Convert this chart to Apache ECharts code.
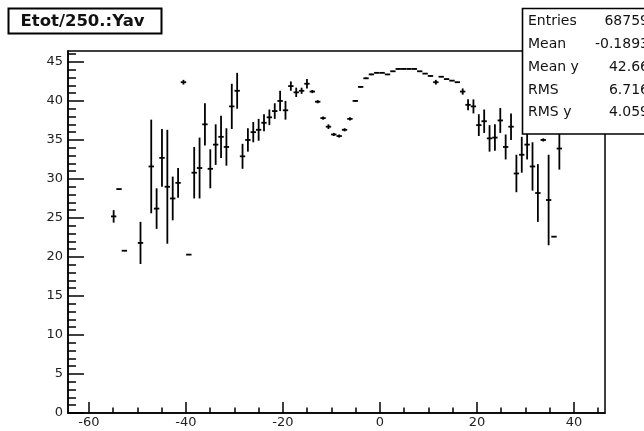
<!DOCTYPE html>
<html>
<head>
<meta charset="utf-8">
<script src="https://cdn.jsdelivr.net/npm/echarts@6/dist/echarts.min.js"></script>
<style>
html,body{margin:0;padding:0;background:#fff;}
#main{width:644px;height:431px;}
</style>
</head>
<body>
<div id="main"></div>
<script>
// Profile binning along Yav
const X_MIN = -64.3;
const X_MAX = 46.4;
const N_BINS = 100;
const Y_MIN = 0;
const Y_MAX = 46.4;

// Filled bins (0-based index), mean of Etot/250. per bin and its error
const filledBins = [
  8, 9, 10, 13, 15, 16, 17, 18, 19, 20, 21, 22, 23, 24, 25, 26, 27, 28, 29, 30, 31,
  32, 33, 34, 35, 36, 37, 38, 39, 40, 41, 42, 43, 44, 45, 46, 47, 48, 49, 50, 51,
  52, 53, 54, 55, 56, 57, 58, 59, 60, 61, 62, 63, 64, 65, 66, 67, 68, 69, 70, 71,
  72, 73, 74, 75, 76, 77, 78, 79, 80, 81, 82, 83, 84, 85, 86, 87, 88, 89, 90, 91
];
const meanEtot = [
  25.2, 28.7, 20.8, 21.8, 31.6, 26.2, 32.7, 29.0, 27.5, 29.5, 42.4, 20.3, 30.8, 31.4, 37.0, 31.3, 34.4, 35.4, 34.1, 39.3, 41.3,
  32.9, 35.0, 36.0, 36.3, 37.2, 37.9, 38.7, 40.0, 38.8, 41.9, 41.1, 41.3, 42.2, 41.2, 39.9, 37.8, 36.7, 35.7, 35.5, 36.3,
  37.7, 40.0, 41.8, 42.9, 43.4, 43.6, 43.6, 43.4, 43.8, 44.1, 44.1, 44.1, 44.1, 43.8, 43.5, 43.2, 42.4, 43.1, 42.8, 42.6,
  42.4, 41.2, 39.5, 39.3, 36.9, 37.4, 35.2, 35.3, 37.5, 34.1, 36.7, 30.7, 33.1, 34.4, 31.6, 28.2, 35.0, 27.3, 22.6, 33.9
];
const errEtot = [
  0.8, 0, 0, 2.7, 6.0, 2.6, 3.7, 7.3, 2.8, 1.9, 0.3, 0, 3.3, 3.9, 2.7, 2.5, 2.6, 2.7, 2.4, 2.9, 2.3,
  1.6, 1.5, 1.3, 1.4, 1.1, 1.0, 1.0, 1.3, 1.2, 0.6, 0.6, 0.4, 0.6, 0.2, 0.2, 0.2, 0.3, 0.2, 0.2, 0.2,
  0.2, 0.1, 0.1, 0.1, 0.1, 0.05, 0.05, 0.05, 0.05, 0.05, 0.05, 0.05, 0.05, 0.05, 0.05, 0.05, 0.3, 0.05, 0.05, 0.05,
  0.05, 0.4, 0.7, 0.9, 1.4, 1.5, 1.7, 1.7, 1.6, 1.6, 1.7, 2.4, 2.3, 1.9, 3.1, 3.7, 0.2, 5.8, 0, 2.7
];

// Axis tick values
const xMajorTicks = [-60, -40, -20, 0, 20, 40];
const xMinorTicks = [-55, -50, -45, -35, -30, -25, -15, -10, -5, 5, 10, 15, 25, 30, 35, 45];
const yMajorTicks = [0, 5, 10, 15, 20, 25, 30, 35, 40, 45];
const yMinorTicks = [1, 2, 3, 4, 6, 7, 8, 9, 11, 12, 13, 14, 16, 17, 18, 19, 21, 22, 23, 24,
  26, 27, 28, 29, 31, 32, 33, 34, 36, 37, 38, 39, 41, 42, 43, 44, 46];

// Title and statistics box
const histTitle = 'Etot/250.:Yav';
const statLabels = ['Entries', 'Mean', 'Mean y', 'RMS', 'RMS y'];
const statValues = ['68759', '-0.1893', '42.66', '6.716', '4.059'];

const binW = (X_MAX - X_MIN) / N_BINS;
const FONT = 'DejaVu Sans, Liberation Sans, Arial, sans-serif';
const INK = '#000';

const chart = echarts.init(document.getElementById('main'), null, { renderer: 'canvas' });

const profileData = filledBins.map((b, i) => [X_MIN + (b + 0.5) * binW, meanEtot[i], errEtot[i]]);

function renderProfileBin(params, api) {
  const xc = api.value(0);
  const m = api.value(1);
  const e = api.value(2);
  const pL = api.coord([xc - binW / 2, m]);
  const pR = api.coord([xc + binW / 2, m]);
  const style = { stroke: INK, lineWidth: 1.8 };
  const children = [{ type: 'line', shape: { x1: pL[0], y1: pL[1], x2: pR[0], y2: pR[1] }, style }];
  if (e > 0) {
    const pT = api.coord([xc, m + e]);
    const pB = api.coord([xc, m - e]);
    children.push({ type: 'line', shape: { x1: pT[0], y1: pT[1], x2: pB[0], y2: pB[1] }, style });
  }
  return { type: 'group', children };
}

const labelStyle = { color: '#222', fontFamily: FONT, fontSize: 13 };
const blankLabel = () => '';

const statTexts = [];
statLabels.forEach((lab, i) => {
  const cy = 21.7 + i * 22.75;
  statTexts.push({
    type: 'text', z: 101, style: { x: 528, y: cy, text: lab, font: '14px ' + FONT, fill: '#111', textVerticalAlign: 'middle', textAlign: 'left' }
  });
  statTexts.push({
    type: 'text', z: 101, style: { x: 649, y: cy, text: statValues[i], font: '14px ' + FONT, fill: '#111', textVerticalAlign: 'middle', textAlign: 'right' }
  });
});

chart.setOption({
  animation: false,
  backgroundColor: '#fff',
  grid: {
    left: 68, right: 39, top: 51, bottom: 18,
    show: true, borderColor: INK, borderWidth: 1.5, backgroundColor: 'transparent'
  },
  xAxis: [
    {
      type: 'value', min: X_MIN, max: X_MAX, position: 'bottom',
      axisLine: { show: true, onZero: false, lineStyle: { color: INK, width: 1.5 } },
      axisTick: { show: true, inside: true, length: 11, customValues: xMajorTicks, lineStyle: { color: INK, width: 1.5 } },
      axisLabel: Object.assign({ customValues: xMajorTicks, margin: 3 }, labelStyle),
      splitLine: { show: false }
    },
    {
      type: 'value', min: X_MIN, max: X_MAX, position: 'bottom',
      axisLine: { show: false, onZero: false },
      axisTick: { show: true, inside: true, length: 5.5, customValues: xMinorTicks, lineStyle: { color: INK, width: 1.5 } },
      axisLabel: { show: true, customValues: xMinorTicks, formatter: blankLabel },
      splitLine: { show: false }
    }
  ],
  yAxis: [
    {
      type: 'value', min: Y_MIN, max: Y_MAX, position: 'left',
      axisLine: { show: true, onZero: false, lineStyle: { color: INK, width: 1.5 } },
      axisTick: { show: true, inside: true, length: 16, customValues: yMajorTicks, lineStyle: { color: INK, width: 1.5 } },
      axisLabel: Object.assign({ customValues: yMajorTicks, margin: 5 }, labelStyle),
      splitLine: { show: false }
    },
    {
      type: 'value', min: Y_MIN, max: Y_MAX, position: 'left',
      axisLine: { show: false, onZero: false },
      axisTick: { show: true, inside: true, length: 8, customValues: yMinorTicks, lineStyle: { color: INK, width: 1.5 } },
      axisLabel: { show: true, customValues: yMinorTicks, formatter: blankLabel },
      splitLine: { show: false }
    }
  ],
  series: [
    {
      type: 'custom',
      xAxisIndex: 0,
      yAxisIndex: 0,
      dimensions: ['yav', 'mean', 'err'],
      encode: { x: 0, y: 1 },
      data: profileData,
      renderItem: renderProfileBin,
      clip: true,
      silent: true
    }
  ],
  graphic: [
    {
      type: 'rect', z: 100,
      shape: { x: 8.5, y: 8.5, width: 153, height: 25 },
      style: { fill: '#fff', stroke: INK, lineWidth: 2 }
    },
    {
      type: 'text', z: 101,
      style: { x: 20.5, y: 21.5, text: histTitle, font: 'bold 16.5px ' + FONT, fill: '#111', textVerticalAlign: 'middle' }
    },
    {
      type: 'rect', z: 100,
      shape: { x: 522.5, y: 8.5, width: 140, height: 125.5 },
      style: { fill: '#fff', stroke: INK, lineWidth: 1.6 }
    }
  ].concat(statTexts)
});
</script>
</body>
</html>
